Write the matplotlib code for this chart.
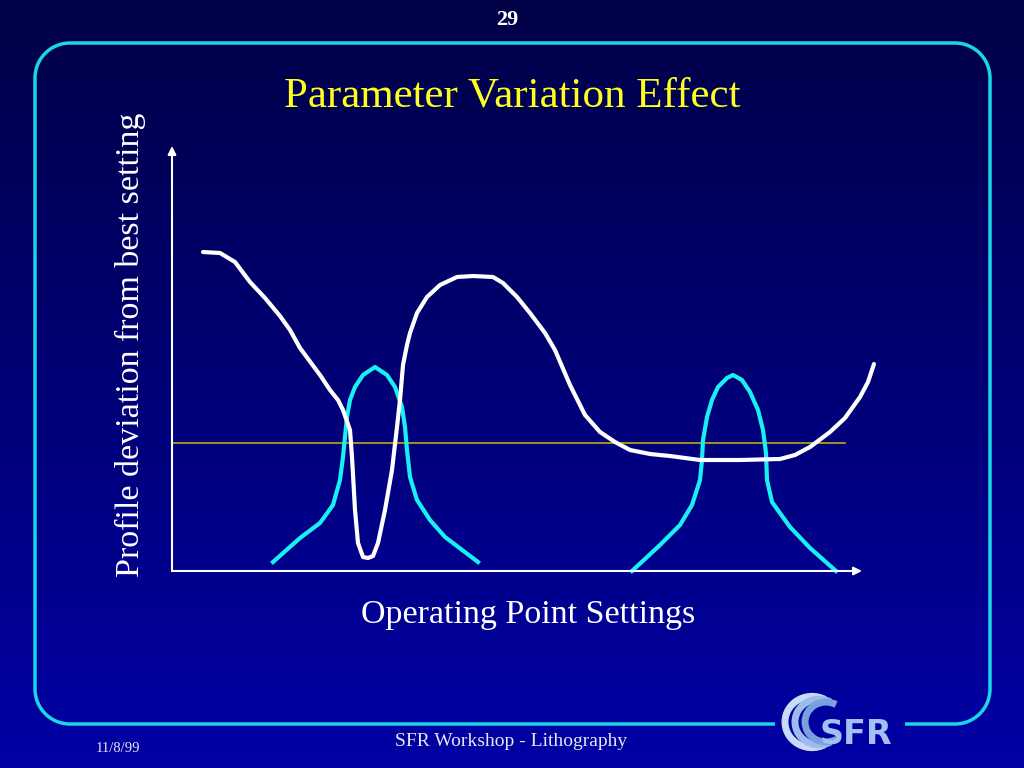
import matplotlib.pyplot as plt
import numpy as np
from matplotlib.patches import Arc
from matplotlib.path import Path
from matplotlib.patches import PathPatch

# hand-drawn profile deviation curve (chart units, origin at the axis corner)
white_x = [31, 48, 63, 78, 93, 108, 118, 128, 148, 158, 166, 171, 178, 180, 183, 186, 191,
           196, 201, 206, 213, 220, 225, 228, 231, 235, 238, 245, 255, 268, 285, 301, 321,
           331, 345, 358, 373, 383, 398, 413, 428, 443, 458, 478, 498, 528, 568, 608, 623,
           638, 658, 673, 688, 696, 702]
white_y = [319, 318, 309, 289, 273, 255, 241, 223, 196, 181, 171, 161, 141, 114, 61, 28, 14,
           13, 15, 28, 61, 101, 144, 171, 206, 226, 238, 258, 274, 286, 294, 295, 294,
           288, 274, 258, 238, 221, 186, 156, 139, 129, 121, 117, 115, 111, 111, 112, 116,
           124, 139, 153, 174, 189, 207]

# two sensitivity peaks
peak1_x = [101, 128, 148, 161, 168, 171, 173, 175, 178, 183, 191, 203, 215, 223, 230, 233,
           235, 238, 245, 258, 273, 306]
peak1_y = [9, 33, 48, 66, 91, 114, 134, 154, 171, 184, 196, 204, 196, 184, 164, 144,
           121, 94, 71, 51, 34, 9]
peak2_x = [460, 488, 508, 520, 528, 530, 531, 535, 540, 546, 555, 561, 570, 578, 586, 591,
           594, 595, 600, 618, 638, 664]
peak2_y = [0, 26, 46, 66, 91, 111, 131, 154, 171, 184, 193, 196, 191, 179, 161, 141,
           118, 91, 69, 44, 23, 0]

threshold = 128
threshold_end = 673

fig = plt.figure(figsize=(10.24, 7.68), dpi=100)

# slide background
bg = fig.add_axes([0, 0, 1, 1])
grad = np.linspace(0, 1, 256).reshape(-1, 1)
top = np.array([0, 0, 70]) / 255
bot = np.array([0, 0, 165]) / 255
img = top + (bot - top) * grad[:, :, None]
bg.imshow(img, extent=[0, 1024, 768, 0], aspect='auto')
bg.set_xlim(0, 1024)
bg.set_ylim(768, 0)
bg.axis('off')

# rounded cyan frame with a gap for the logo
L, R, T, B, r = 35, 990, 43, 724, 35
def corner(cx, cy, a0, a1):
    t = np.radians(np.linspace(a0, a1, 30))
    return list(zip(cx + r * np.cos(t), cy - r * np.sin(t)))
pts = [(905, B), (R - r, B)]
pts += corner(R - r, B - r, -90, 0)
pts += corner(R - r, T + r, 0, 90)
pts += corner(L + r, T + r, 90, 180)
pts += corner(L + r, B - r, 180, 270)
pts += [(775, B)]
bg.add_patch(PathPatch(Path(pts), fill=False, edgecolor='#19d7e6', lw=2.5))

# logo
for i, rad in enumerate([27, 24, 21]):
    bg.add_patch(Arc((812 + i * 7, 722), rad * 2, rad * 1.9, theta1=60, theta2=300,
                     color=['#c8daf5', '#9dbbec', '#7aa0e0'][i], lw=5))
bg.text(856, 734, 'SFR', color='#a3c0f2', fontsize=24, fontweight='bold',
        family='DejaVu Sans', ha='center', va='center')

# slide texts
bg.text(507, 20, '29', color='white', fontsize=16, fontweight='bold',
        family='Liberation Serif', ha='center', va='center')
bg.text(512, 96, 'Parameter Variation Effect', color='#ffff1e', fontsize=31,
        family='Liberation Serif', ha='center', va='center')
bg.text(511, 741, 'SFR Workshop - Lithography', color='#e6e6f5', fontsize=14,
        family='Liberation Serif', ha='center', va='center')
bg.text(118, 748, '11/8/99', color='#e6e6f5', fontsize=10.5,
        family='Liberation Serif', ha='center', va='center')

# chart area
ax = fig.add_axes([172 / 1024, (768 - 571) / 768, 688 / 1024, 423 / 768])
ax.set_xlim(0, 688)
ax.set_ylim(0, 423)
ax.axis('off')
ax.patch.set_alpha(0)

arrow = dict(arrowstyle='-|>', color='white', lw=1.5, mutation_scale=12, shrinkA=0, shrinkB=0)
ax.annotate('', xy=(690, 0), xytext=(0, 0), arrowprops=arrow, annotation_clip=False)
ax.annotate('', xy=(0, 425), xytext=(0, 0), arrowprops=arrow, annotation_clip=False)

ax.plot([0, threshold_end], [threshold, threshold], color='#c8be00', lw=1.1, clip_on=False)
ax.plot(peak1_x, peak1_y, color='#19f0f5', lw=3, solid_joinstyle='round', clip_on=False)
ax.plot(peak2_x, peak2_y, color='#19f0f5', lw=3, solid_joinstyle='round', clip_on=False)
ax.plot(white_x, white_y, color='white', lw=3, solid_joinstyle='round',
        solid_capstyle='round', clip_on=False)

fig.text(528 / 1024, 1 - 615 / 768, 'Operating Point Settings', color='white',
         fontsize=24.5, family='Liberation Serif', ha='center', va='center')
fig.text(130 / 1024, 1 - 345 / 768, 'Profile deviation from best setting', color='white',
         fontsize=24.5, family='Liberation Serif', ha='center', va='center', rotation=90)

fig.savefig('out.png', dpi=100)
